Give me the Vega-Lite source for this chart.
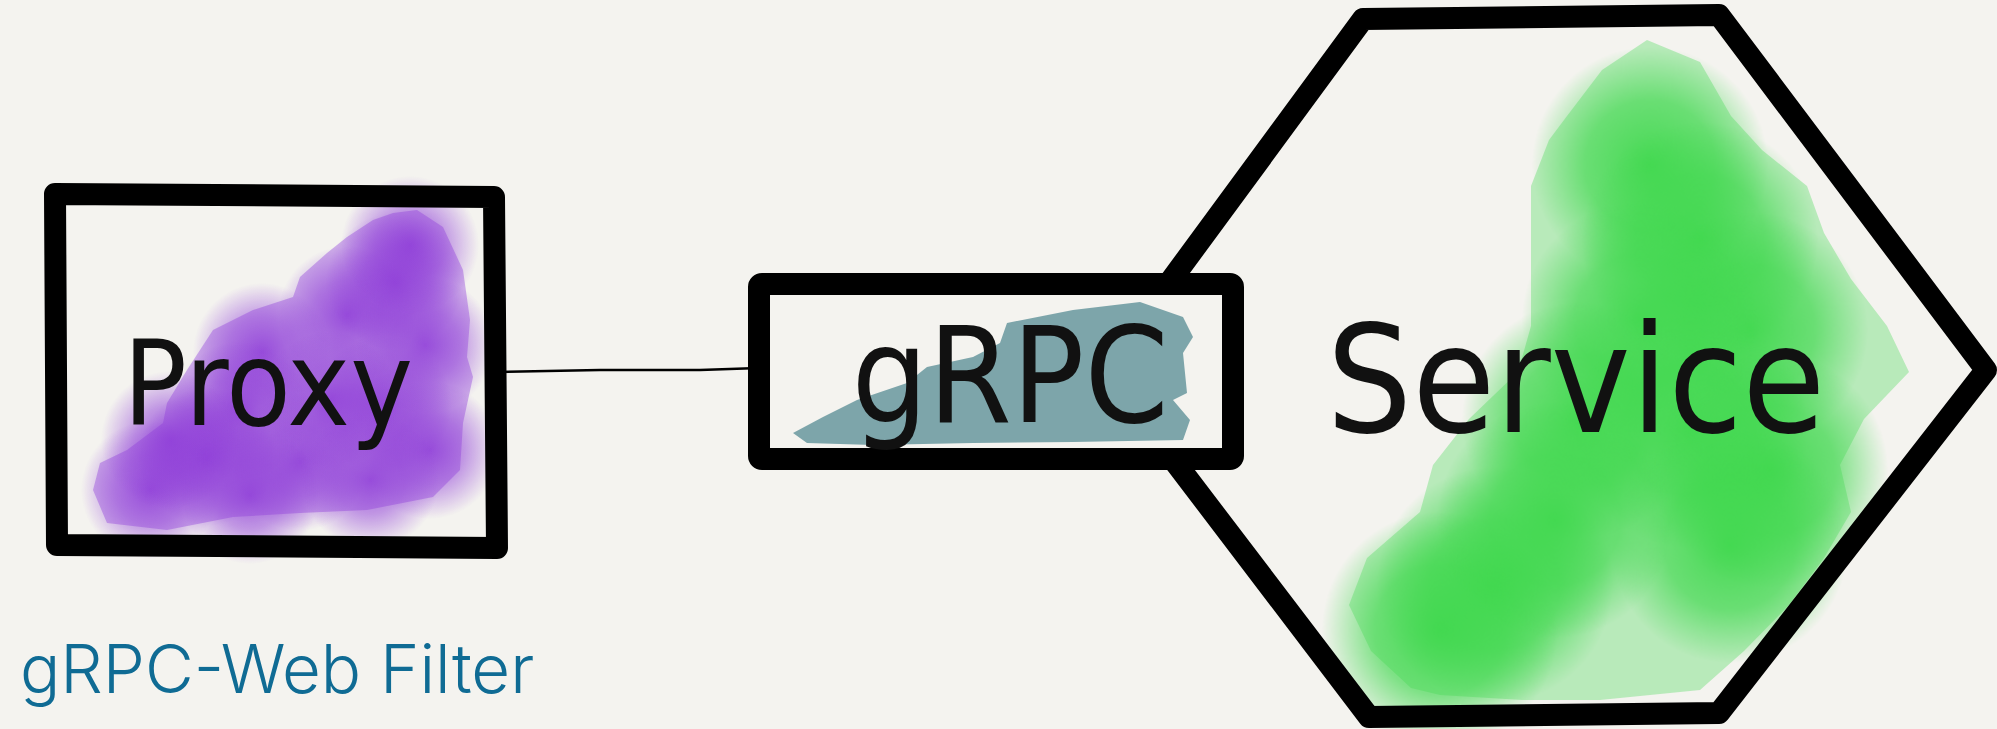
{
  "$schema": "https://vega.github.io/schema/vega-lite/v6.json",
  "width": 1997,
  "height": 729,
  "autosize": {"type": "none"},
  "padding": 0,
  "background": "#f4f3ef",
  "config": {"view": {"stroke": null}},
  "datasets": {
    "greenEdge": [
      {"i": 1, "x": 1647, "y": 40}, {"i": 2, "x": 1700, "y": 62}, {"i": 3, "x": 1731, "y": 116},
      {"i": 4, "x": 1762, "y": 150}, {"i": 5, "x": 1807, "y": 186}, {"i": 6, "x": 1824, "y": 233},
      {"i": 7, "x": 1851, "y": 279}, {"i": 8, "x": 1887, "y": 326}, {"i": 9, "x": 1909, "y": 372},
      {"i": 10, "x": 1864, "y": 419}, {"i": 11, "x": 1840, "y": 465}, {"i": 12, "x": 1851, "y": 512},
      {"i": 13, "x": 1824, "y": 558}, {"i": 14, "x": 1789, "y": 605}, {"i": 15, "x": 1744, "y": 651},
      {"i": 16, "x": 1700, "y": 690}, {"i": 17, "x": 1600, "y": 700}, {"i": 18, "x": 1522, "y": 700},
      {"i": 19, "x": 1440, "y": 695}, {"i": 20, "x": 1411, "y": 688}, {"i": 21, "x": 1371, "y": 651},
      {"i": 22, "x": 1349, "y": 605}, {"i": 23, "x": 1367, "y": 558}, {"i": 24, "x": 1420, "y": 512},
      {"i": 25, "x": 1433, "y": 465}, {"i": 26, "x": 1469, "y": 419}, {"i": 27, "x": 1518, "y": 372},
      {"i": 28, "x": 1531, "y": 326}, {"i": 29, "x": 1531, "y": 279}, {"i": 30, "x": 1531, "y": 186},
      {"i": 31, "x": 1549, "y": 140}, {"i": 32, "x": 1567, "y": 116}, {"i": 33, "x": 1602, "y": 70}
    ],
    "greenSpots": [
      {"x": 1650, "y": 165}, {"x": 1700, "y": 240}, {"x": 1750, "y": 330}, {"x": 1640, "y": 320},
      {"x": 1580, "y": 420}, {"x": 1690, "y": 430}, {"x": 1770, "y": 470}, {"x": 1495, "y": 585},
      {"x": 1730, "y": 545}, {"x": 1440, "y": 630}, {"x": 1555, "y": 520}
    ],
    "hexagon": [
      {"i": 1, "x": 1363, "y": 19}, {"i": 2, "x": 1719, "y": 15}, {"i": 3, "x": 1986, "y": 370},
      {"i": 4, "x": 1719, "y": 713}, {"i": 5, "x": 1369, "y": 717}, {"i": 6, "x": 1105, "y": 370}
    ],
    "grpcBox": [{"x": 759, "x2": 1233, "y": 284, "y2": 459}],
    "tealEdge": [
      {"i": 1, "x": 793, "y": 433}, {"i": 2, "x": 823, "y": 417}, {"i": 3, "x": 857, "y": 400},
      {"i": 4, "x": 907, "y": 383}, {"i": 5, "x": 927, "y": 367}, {"i": 6, "x": 973, "y": 357},
      {"i": 7, "x": 1000, "y": 343}, {"i": 8, "x": 1007, "y": 323}, {"i": 9, "x": 1073, "y": 310},
      {"i": 10, "x": 1140, "y": 302}, {"i": 11, "x": 1183, "y": 317}, {"i": 12, "x": 1193, "y": 337},
      {"i": 13, "x": 1183, "y": 353}, {"i": 14, "x": 1187, "y": 393}, {"i": 15, "x": 1173, "y": 400},
      {"i": 16, "x": 1190, "y": 420}, {"i": 17, "x": 1183, "y": 440}, {"i": 18, "x": 1073, "y": 442},
      {"i": 19, "x": 973, "y": 443}, {"i": 20, "x": 873, "y": 445}, {"i": 21, "x": 807, "y": 443}
    ],
    "link": [
      {"i": 1, "x": 494, "y": 372}, {"i": 2, "x": 600, "y": 370}, {"i": 3, "x": 700, "y": 370}, {"i": 4, "x": 759, "y": 368}
    ],
    "proxyBox": [
      {"i": 1, "x": 55, "y": 194}, {"i": 2, "x": 494, "y": 197}, {"i": 3, "x": 497, "y": 548}, {"i": 4, "x": 57, "y": 545}
    ],
    "purpleEdge": [
      {"i": 1, "x": 417, "y": 210}, {"i": 2, "x": 443, "y": 227}, {"i": 3, "x": 463, "y": 270},
      {"i": 4, "x": 470, "y": 320}, {"i": 5, "x": 467, "y": 357}, {"i": 6, "x": 473, "y": 377},
      {"i": 7, "x": 463, "y": 423}, {"i": 8, "x": 460, "y": 470}, {"i": 9, "x": 433, "y": 497},
      {"i": 10, "x": 367, "y": 510}, {"i": 11, "x": 300, "y": 513}, {"i": 12, "x": 233, "y": 517},
      {"i": 13, "x": 167, "y": 530}, {"i": 14, "x": 107, "y": 523}, {"i": 15, "x": 93, "y": 490},
      {"i": 16, "x": 100, "y": 463}, {"i": 17, "x": 127, "y": 450}, {"i": 18, "x": 163, "y": 423},
      {"i": 19, "x": 167, "y": 403}, {"i": 20, "x": 187, "y": 370}, {"i": 21, "x": 213, "y": 330},
      {"i": 22, "x": 253, "y": 310}, {"i": 23, "x": 293, "y": 297}, {"i": 24, "x": 300, "y": 277},
      {"i": 25, "x": 327, "y": 253}, {"i": 26, "x": 347, "y": 237}, {"i": 27, "x": 373, "y": 220},
      {"i": 28, "x": 393, "y": 213}
    ],
    "purpleSpots": [
      {"x": 347, "y": 315}, {"x": 395, "y": 282}, {"x": 262, "y": 352}, {"x": 207, "y": 457},
      {"x": 383, "y": 405}, {"x": 300, "y": 462}, {"x": 425, "y": 345}, {"x": 430, "y": 450},
      {"x": 150, "y": 490}, {"x": 330, "y": 400}, {"x": 240, "y": 410}, {"x": 410, "y": 245},
      {"x": 170, "y": 440}, {"x": 250, "y": 495}, {"x": 370, "y": 480}
    ],
    "textProxy": [{"label": "Proxy", "x": 268, "y": 425}],
    "textGrpc": [{"label": "gRPC", "x": 1010, "y": 422}],
    "textService": [{"label": "Service", "x": 1576, "y": 432}],
    "caption": [{"label": "gRPC-Web Filter", "x": 20, "y": 693}]
  },
  "encoding": {
    "x": {"field": "x", "type": "quantitative", "scale": {"domain": [0, 1997], "nice": false, "zero": false}, "axis": null},
    "y": {"field": "y", "type": "quantitative", "scale": {"domain": [0, 729], "nice": false, "zero": false, "reverse": true}, "axis": null}
  },
  "layer": [
    {
      "data": {"name": "greenEdge"},
      "mark": {"type": "line", "interpolate": "linear-closed", "fill": "#5fdb6b", "fillOpacity": 0.4, "strokeOpacity": 0, "strokeWidth": 0},
      "encoding": {"order": {"field": "i", "type": "quantitative"}}
    },
    {
      "data": {"name": "greenSpots"},
      "mark": {"type": "point", "filled": true, "shape": "circle", "size": 56000, "strokeWidth": 0,
        "fill": {"gradient": "radial", "stops": [
          {"offset": 0, "color": "rgba(64,216,78,0.95)"},
          {"offset": 0.55, "color": "rgba(64,216,78,0.65)"},
          {"offset": 1, "color": "rgba(64,216,78,0)"}]},
        "opacity": 1}
    },
    {
      "data": {"name": "hexagon"},
      "mark": {"type": "line", "interpolate": "linear-closed", "color": "#000000", "strokeWidth": 22, "strokeCap": "round", "strokeJoin": "round"},
      "encoding": {"order": {"field": "i", "type": "quantitative"}}
    },
    {
      "data": {"name": "grpcBox"},
      "mark": {"type": "rect", "fill": "#f4f3ef", "stroke": "#000000", "strokeWidth": 22, "strokeJoin": "round", "cornerRadius": 3},
      "encoding": {
        "x2": {"field": "x2"},
        "y2": {"field": "y2"}
      }
    },
    {
      "data": {"name": "tealEdge"},
      "mark": {"type": "line", "interpolate": "linear-closed", "fill": "#5f9198", "fillOpacity": 0.8, "strokeOpacity": 0, "strokeWidth": 0},
      "encoding": {"order": {"field": "i", "type": "quantitative"}}
    },
    {
      "data": {"name": "link"},
      "mark": {"type": "line", "color": "#000000", "strokeWidth": 2.5, "strokeCap": "round"},
      "encoding": {"order": {"field": "i", "type": "quantitative"}}
    },
    {
      "data": {"name": "purpleEdge"},
      "mark": {"type": "line", "interpolate": "linear-closed", "fill": "#a463e0", "fillOpacity": 0.5, "strokeOpacity": 0, "strokeWidth": 0},
      "encoding": {"order": {"field": "i", "type": "quantitative"}}
    },
    {
      "data": {"name": "purpleSpots"},
      "mark": {"type": "point", "filled": true, "shape": "circle", "size": 19000, "strokeWidth": 0,
        "fill": {"gradient": "radial", "stops": [
          {"offset": 0, "color": "rgba(142,60,216,0.85)"},
          {"offset": 0.5, "color": "rgba(142,60,216,0.5)"},
          {"offset": 1, "color": "rgba(142,60,216,0)"}]},
        "opacity": 1}
    },
    {
      "data": {"name": "proxyBox"},
      "mark": {"type": "line", "interpolate": "linear-closed", "color": "#000000", "strokeWidth": 22, "strokeCap": "round", "strokeJoin": "round"},
      "encoding": {"order": {"field": "i", "type": "quantitative"}}
    },
    {
      "data": {"name": "textProxy"},
      "mark": {"type": "text", "align": "center", "baseline": "alphabetic", "font": "DejaVu Sans Condensed, DejaVu Sans", "fontSize": 118, "color": "#111111"},
      "encoding": {"text": {"field": "label"}}
    },
    {
      "data": {"name": "textGrpc"},
      "mark": {"type": "text", "align": "center", "baseline": "alphabetic", "font": "DejaVu Sans Condensed, DejaVu Sans", "fontSize": 134, "color": "#111111"},
      "encoding": {"text": {"field": "label"}}
    },
    {
      "data": {"name": "textService"},
      "mark": {"type": "text", "align": "center", "baseline": "alphabetic", "font": "DejaVu Sans Condensed, DejaVu Sans", "fontSize": 150, "color": "#111111"},
      "encoding": {"text": {"field": "label"}}
    },
    {
      "data": {"name": "caption"},
      "mark": {"type": "text", "align": "left", "baseline": "alphabetic", "font": "Inter", "fontWeight": 300, "fontSize": 67, "color": "#0f6b94"},
      "encoding": {"text": {"field": "label"}}
    }
  ]
}
